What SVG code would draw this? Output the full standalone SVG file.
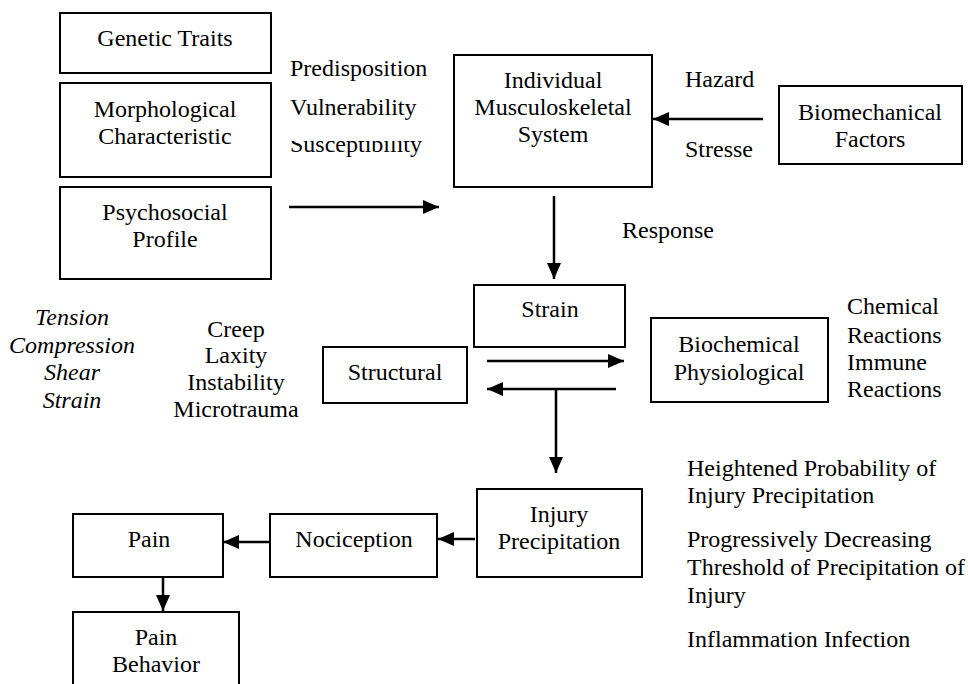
<svg xmlns="http://www.w3.org/2000/svg" width="968" height="684" viewBox="0 0 968 684">
<style>
.box{fill:#fff;stroke:#000;stroke-width:2}
text{font-family:"Liberation Serif","Times New Roman",serif;font-size:24px;fill:#000}
.c{text-anchor:middle}
.i{font-style:italic}
.ln{stroke:#000;stroke-width:2.5;fill:none}
</style>
<defs>
<marker id="ah" markerUnits="userSpaceOnUse" markerWidth="16" markerHeight="14" refX="16" refY="7" orient="auto">
<path d="M0,0 L16,7 L0,14 z" fill="#000"/>
</marker>
<clipPath id="susc"><rect x="280" y="141" width="160" height="30"/></clipPath>
</defs>
<rect width="968" height="684" fill="#fff"/>

<g id="genetic"><rect class="box" x="60" y="13" width="211" height="60"/><text class="c" x="165" y="46">Genetic Traits</text></g>
<g id="morph"><rect class="box" x="60" y="83" width="211" height="94"/><text class="c" x="165" y="117">Morphological</text><text class="c" x="165" y="144">Characteristic</text></g>
<g id="psych"><rect class="box" x="60" y="187" width="211" height="92"/><text class="c" x="165" y="220">Psychosocial</text><text class="c" x="165" y="247">Profile</text></g>
<g id="individual"><rect class="box" x="454" y="55" width="198" height="132"/><text class="c" x="553" y="88">Individual</text><text class="c" x="553" y="115">Musculoskeletal</text><text class="c" x="553" y="142">System</text></g>
<g id="biomech"><rect class="box" x="779" y="86" width="183" height="78"/><text class="c" x="870" y="120">Biomechanical</text><text class="c" x="870" y="147">Factors</text></g>
<g id="strain"><rect class="box" x="474" y="285" width="151" height="62"/><text class="c" x="550" y="317">Strain</text></g>
<g id="structural"><rect class="box" x="323" y="347" width="144" height="56"/><text class="c" x="395" y="380">Structural</text></g>
<g id="biochem"><rect class="box" x="651" y="318" width="177" height="84"/><text class="c" x="739" y="352">Biochemical</text><text class="c" x="739" y="380">Physiological</text></g>
<g id="injury"><rect class="box" x="477" y="489" width="165" height="88"/><text class="c" x="559" y="522">Injury</text><text class="c" x="559" y="549">Precipitation</text></g>
<g id="nociception"><rect class="box" x="270" y="514" width="167" height="63"/><text class="c" x="354" y="547">Nociception</text></g>
<g id="pain"><rect class="box" x="73" y="514" width="150" height="63"/><text class="c" x="149" y="547">Pain</text></g>
<g id="painbehavior"><rect class="box" x="73" y="612" width="166" height="90"/><text class="c" x="156" y="645">Pain</text><text class="c" x="156" y="672">Behavior</text></g>

<g id="labels">
<text x="290" y="76">Predisposition</text>
<text x="290" y="115">Vulnerability</text>
<text x="290" y="152" clip-path="url(#susc)">Susceptibility</text>
<text x="685" y="87">Hazard</text>
<text x="685" y="157">Stresse</text>
<text x="622" y="238">Response</text>
<text class="c i" x="72" y="325">Tension</text>
<text class="c i" x="72" y="353">Compression</text>
<text class="c i" x="72" y="380">Shear</text>
<text class="c i" x="72" y="408">Strain</text>
<text class="c" x="236" y="337">Creep</text>
<text class="c" x="236" y="363">Laxity</text>
<text class="c" x="236" y="390">Instability</text>
<text class="c" x="236" y="417">Microtrauma</text>
<text x="847" y="314">Chemical</text>
<text x="847" y="343">Reactions</text>
<text x="847" y="370">Immune</text>
<text x="847" y="397">Reactions</text>
<text x="687" y="476">Heightened Probability of</text>
<text x="687" y="503">Injury Precipitation</text>
<text x="687" y="547">Progressively Decreasing</text>
<text x="687" y="575">Threshold of Precipitation of</text>
<text x="687" y="603">Injury</text>
<text x="687" y="647">Inflammation Infection</text>
</g>

<g id="connectors">
<line class="ln" x1="289" y1="207" x2="439" y2="207" marker-end="url(#ah)"/>
<line class="ln" x1="763" y1="119" x2="653" y2="119" marker-end="url(#ah)"/>
<line class="ln" x1="554" y1="196" x2="554" y2="279" marker-end="url(#ah)"/>
<line class="ln" x1="487" y1="361" x2="624" y2="361" marker-end="url(#ah)"/>
<line class="ln" x1="616" y1="389" x2="487" y2="389" marker-end="url(#ah)"/>
<line class="ln" x1="556" y1="389" x2="556" y2="473" marker-end="url(#ah)"/>
<line class="ln" x1="475" y1="539" x2="438" y2="539" marker-end="url(#ah)"/>
<line class="ln" x1="270" y1="542" x2="223" y2="542" marker-end="url(#ah)"/>
<line class="ln" x1="163" y1="577" x2="163" y2="611" marker-end="url(#ah)"/>
</g>
</svg>
